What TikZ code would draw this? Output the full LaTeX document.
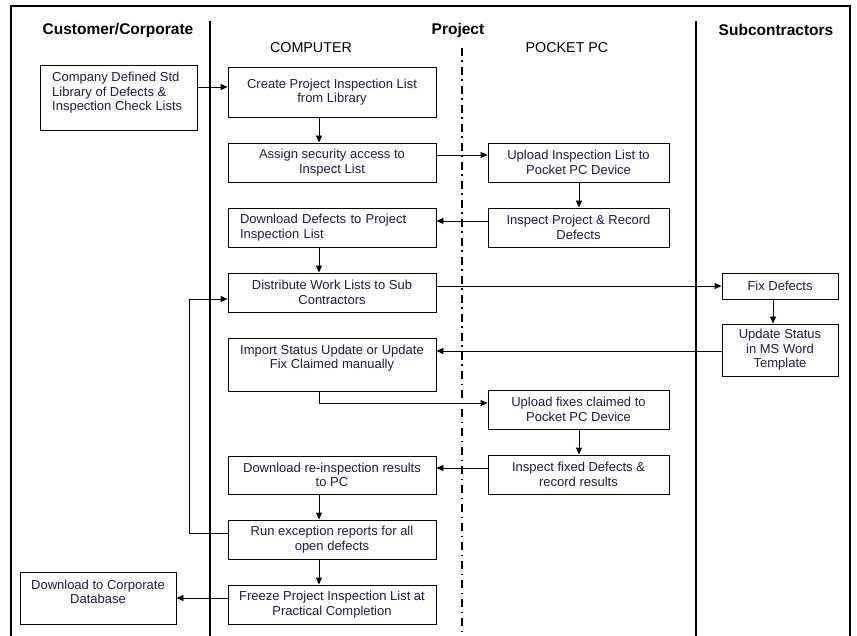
\documentclass[tikz,border=0pt]{standalone}
\usepackage{fontspec}
\setmainfont{Liberation Sans}
\usetikzlibrary{arrows.meta}
\definecolor{txt}{HTML}{1E1E3C}
\begin{document}
\begin{tikzpicture}[x=1pt,y=-1pt,
 box/.style={draw, line width=0.9pt, inner sep=0pt, align=center, font=\fontsize{13}{14.5}\selectfont, text=txt},
 boxtext/.style={inner sep=0pt, align=center, font=\fontsize{13}{14.5}\selectfont, text=txt},
 arr/.style={line width=0.9pt, -{Triangle[length=7pt,width=6pt]}},
 sepline/.style={line width=1.8pt},
 ddline/.style={line width=1.5pt, dash pattern=on 8pt off 4.5pt on 1.5pt off 5pt},
 hdr/.style={font=\bfseries\fontsize{15.5}{18}\selectfont},
 subhdr/.style={font=\fontsize{14.3}{17}\selectfont}]
\useasboundingbox (0,0) rectangle (857,636);
\clip (0,0) rectangle (857,636);
\draw[line width=1.5pt] (11,6) rectangle (850,660);
% lane separators
\draw[sepline] (210,21) -- (210,660);
\draw[sepline] (696,21) -- (696,660);
\draw[ddline] (462,48) -- (462,660);
% headers
\node[hdr] (h1) at (118,30) {Customer/Corporate};
\node[hdr] (h2) at (458,30) {Project};
\node[hdr] (h3) at (776,30) {Subcontractors};
\node[subhdr] (h4) at (311,48) {COMPUTER};
\node[subhdr] (h5) at (567,48) {POCKET PC};
% boxes
\node[box, minimum width=157pt, minimum height=65pt] (comp) at (118.5,97.5) {};
\node[boxtext, align=left, anchor=west] (comptxt) at (52,93) {Company Defined Std\\Library of Defects \&\\Inspection Check Lists};
\node[box, minimum width=208pt, minimum height=50pt] (create) at (332,92) {Create Project Inspection List\\from Library};
\node[box, minimum width=208pt, minimum height=39pt] (assign) at (332,162.5) {Assign security access to\\Inspect List};
\node[box, minimum width=181pt, minimum height=39pt] (upload) at (578.5,162.5) {Upload Inspection List to\\Pocket PC Device};
\node[box, minimum width=181pt, minimum height=39pt] (inspect) at (578.5,227.5) {Inspect Project \& Record\\Defects};
\node[box, align=left, text width=184pt, inner xsep=12pt, minimum height=39pt] (dldef) at (332,227.5) {Download Defects to Project\\Inspection List};
\node[box, minimum width=208pt, minimum height=39pt] (distrib) at (332,292.5) {Distribute Work Lists to Sub\\Contractors};
\node[box, minimum width=116pt, minimum height=26pt] (fix) at (780,286) {Fix Defects};
\node[box, minimum width=116pt, minimum height=52pt] (update) at (780,350) {Update Status\\in MS Word\\Template};
\node[box, minimum width=208pt, minimum height=53pt] (import) at (332,364.5) {};
\node[boxtext] (importtxt) at (332,358) {Import Status Update or Update\\Fix Claimed manually};
\node[box, minimum width=181pt, minimum height=39pt] (upfix) at (578.5,409.5) {Upload fixes claimed to\\Pocket PC Device};
\node[box, minimum width=181pt, minimum height=39pt] (inspfix) at (578.5,474.5) {Inspect fixed Defects \&\\record results};
\node[box, minimum width=208pt, minimum height=38pt] (dlre) at (332,475) {Download re-inspection results\\to PC};
\node[box, minimum width=208pt, minimum height=39pt] (run) at (332,539.5) {Run exception reports for all\\open defects};
\node[box, minimum width=208pt, minimum height=39pt] (freeze) at (332,604.5) {Freeze Project Inspection List at\\Practical Completion};
\node[box, minimum width=156pt, minimum height=52pt] (dlcorp) at (98,598) {};
\node[boxtext] (dlcorptxt) at (98,592) {Download to Corporate\\Database};
% helper coordinates
\coordinate (cx) at (319,0);
\coordinate (px) at (579,0);
\coordinate (fx) at (773,0);
\coordinate (lx) at (189,0);
\coordinate (y87) at (0,87);
\coordinate (y155) at (0,155);
\coordinate (y221) at (0,221);
\coordinate (y286) at (0,286);
\coordinate (y299) at (0,299);
\coordinate (y351) at (0,351);
\coordinate (y403) at (0,403);
\coordinate (y468) at (0,468);
\coordinate (y533) at (0,533);
\coordinate (y598) at (0,598);
% connectors
\draw[arr] (comp.east |- y87) -- (create.west |- y87);
\draw[arr] (create.south -| cx) -- (assign.north -| cx);
\draw[arr] (assign.east |- y155) -- (upload.west |- y155);
\draw[arr] (upload.south -| px) -- (inspect.north -| px);
\draw[arr] (inspect.west |- y221) -- (dldef.east |- y221);
\draw[arr] (dldef.south -| cx) -- (distrib.north -| cx);
\draw[arr] (distrib.east |- y286) -- (fix.west |- y286);
\draw[arr] (fix.south -| fx) -- (update.north -| fx);
\draw[arr] (update.west |- y351) -- (import.east |- y351);
\draw[arr] (import.south -| cx) -- (cx |- y403) -- (upfix.west |- y403);
\draw[arr] (upfix.south -| px) -- (inspfix.north -| px);
\draw[arr] (inspfix.west |- y468) -- (dlre.east |- y468);
\draw[arr] (dlre.south -| cx) -- (run.north -| cx);
\draw[arr] (run.west |- y533) -- (lx |- y533) -- (lx |- y299) -- (distrib.west |- y299);
\draw[arr] (run.south -| cx) -- (freeze.north -| cx);
\draw[arr] (freeze.west |- y598) -- (dlcorp.east |- y598);
\end{tikzpicture}
\end{document}
